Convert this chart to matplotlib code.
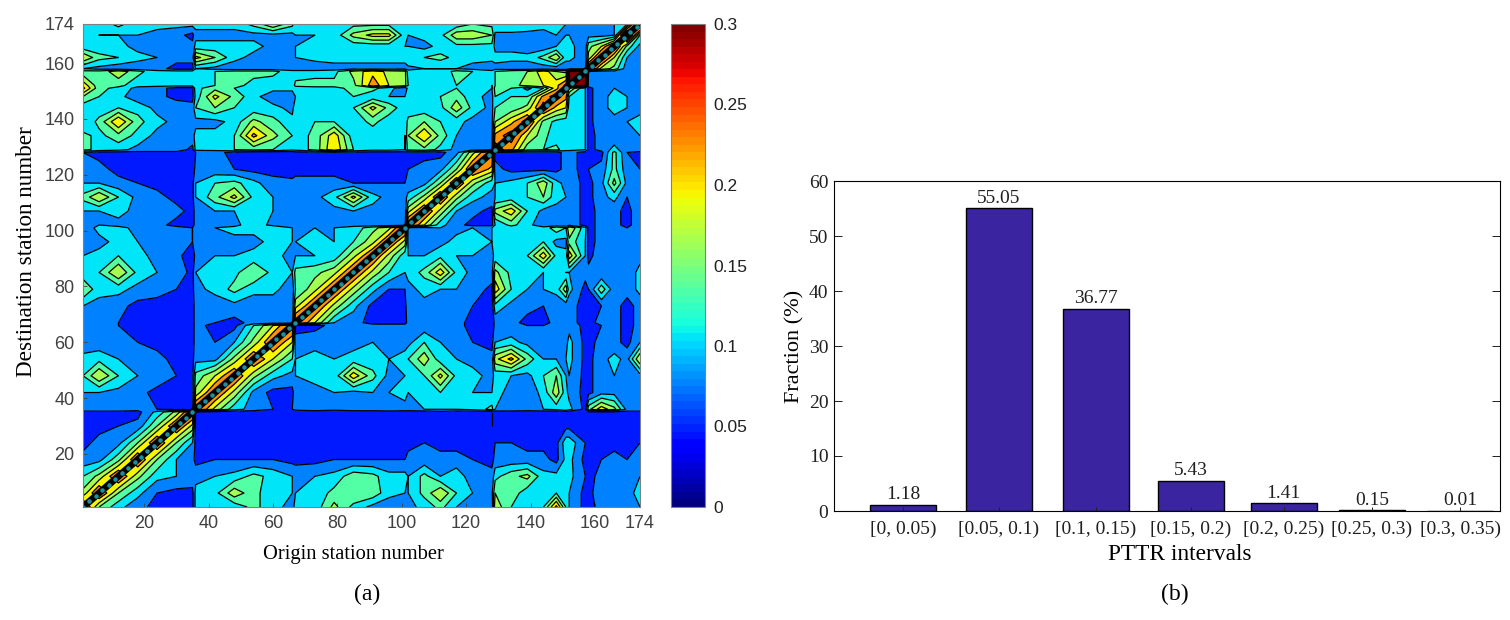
import numpy as np
import matplotlib
matplotlib.use('Agg')
import matplotlib.pyplot as plt
from matplotlib.cm import ScalarMappable
from matplotlib.colors import Normalize

SERIF = 'Liberation Serif'
SANS = 'Liberation Sans'
BAR_COLOR = '#3B24A0'
GRAY = '#404040'

stations = [1, 6, 12, 18, 24, 30, 35, 36, 42, 48, 54, 60, 66, 67, 73, 79, 85, 91, 96, 101,
            102, 107, 112, 117, 122, 128, 129, 134, 139, 144, 148, 151, 152, 157,
            158, 162, 166, 170, 174]
diag_stations = list(range(1, 175, 2))

# PTTR x 100, first row is destination 174, last row is destination 1
pttr_rows = [
    [10,10,13,10,10,10,10, 10,10,10,13,18,13, 10,10,10,11,11,11,10, 10,10,10,10,12,11, 12,12,11,10,10,9, 9,6, 8,9,9,12,33],
    [10,9,9,9,8,7,5, 8,8,8,8,8,8, 9,9,10,16,19,19,10, 9,10,11,17,17,15, 8,8,8,8,9,9, 9,7, 8,8,9,33,12],
    [10,10,10,8,7,7,7, 10,10,10,10,8,7, 9,10,10,10,10,10,9, 9,8,10,11,11,11, 8,8,7,7,9,10, 10,7, 14,18,27,14,8],
    [18,13,12,10,9,7,7, 19,15,10,8,8,9, 9,10,11,10,10,10,10, 12,12,13,11,10,10, 10,10,10,13,18,10, 10,7, 16,27,18,9,8],
    [9,8,7,7,7,5,5, 9,8,7,7,7,7, 7,7,7,8,8,8,8, 8,9,9,9,8,7, 8,7,7,7,7,7, 7,7, 27,17,14,7,7],
    [13,13,17,13,10,10,10, 10,12,13,13,13,10, 10,10,11,16,20,17,16, 10,12,10,13,12,10, 12,14,15,20,15,14, 33,33, 9,8,8,8,8],
    [20,13,13,10,10,10,10, 10,12,13,11,10,10, 13,14,13,14,23,18,16, 12,12,10,12,10,9, 12,14,16,18,20,25, 33,33, 7,8,8,9,7],
    [22,13,11,8,7,5,5, 11,14,12,11,10,10, 10,10,11,13,13,10,7, 10,10,11,12,10,9, 13,12,8,12,20,26, 18,9, 5,8,9,9,8],
    [15,12,10,7,7,5,5, 10,19,14,10,7,7, 9,10,12,12,10,9,9, 10,10,12,14,10,8, 12,12,12,22,26,22, 12,9, 5,8,10,9,8],
    [10,10,12,11,8,8,7, 12,15,12,10,10,8, 11,10,10,12,19,14,10, 10,10,11,17,11,8, 12,13,16,26,20,18, 10,9, 5,8,10,9,8],
    [9,13,21,13,10,8,8, 8,8,10,16,13,10, 10,12,12,10,13,10,10, 13,15,12,10,8,8, 15,20,26,14,11,10, 10,9, 5,8,8,9,10],
    [13,11,14,11,8,8,8, 10,10,12,22,16,12, 10,13,20,10,10,10,9, 15,21,14,9,8,8, 22,26,18,13,10,10, 10,9, 5,7,7,8,9],
    [13,11,10,8,8,8,5, 10,10,12,13,12,10, 10,13,21,12,10,10,9, 13,14,11,8,8,8, 26,22,13,12,13,10, 10,9, 5,7,10,7,8],
    [6,5,5,5,5,5,4, 6,7,5,4,4,4, 5,5,5,5,5,5,5, 5,5,5,8,17,26, 5,5,5,5,5,7, 7,5, 5,5,13,6,5],
    [8,7,5,5,5,5,4, 7,7,6,5,5,4, 5,5,5,5,6,5,5, 6,7,8,15,25,20, 7,5,5,5,5,7, 7,5, 6,7,13,7,6],
    [9,9,7,6,5,5,5, 9,12,13,10,7,7, 7,7,7,6,6,6,6, 7,8,15,25,16,10, 9,10,12,17,10,8, 8,5, 5,8,16,8,7],
    [13,18,12,8,7,5,5, 9,14,19,11,9,8, 8,8,11,19,10,8,8, 10,16,25,16,10,8, 9,10,12,15,10,9, 8,5, 5,8,10,6,8],
    [9,9,10,8,7,7,5, 7,9,9,12,9,7, 6,7,8,9,8,7,7, 17,25,17,9,7,5, 16,20,12,8,8,8, 8,5, 5,7,7,5,8],
    [8,9,8,7,7,5,5, 7,8,8,11,8,7, 7,7,8,8,7,7,7, 26,18,10,7,5,5, 9,13,10,7,7,7, 8,5, 5,7,7,5,8],
    [7,10,10,8,7,7,6, 8,9,10,10,12,9, 9,9,9,10,14,17,26, 8,8,9,8,9,9, 11,10,10,10,14,12, 18,10, 5,7,7,6,8],
    [7,8,10,9,7,7,6, 7,8,8,8,10,9, 9,10,9,12,17,25,17, 8,7,8,10,10,9, 10,10,10,12,8,8, 14,9, 5,7,8,7,8],
    [9,10,12,10,8,7,4, 7,9,9,10,10,8, 9,9,10,17,25,17,10, 9,9,11,9,9,8, 10,10,12,20,11,10, 20,9, 5,8,8,7,8],
    [10,12,18,11,9,8,5, 9,10,11,15,11,9, 13,14,17,25,17,12,9, 10,13,20,11,8,8, 16,11,10,9,10,9, 9,7, 7,6,7,7,10],
    [15,10,10,8,7,6,5, 8,10,13,10,10,7, 12,17,25,17,10,6,6, 8,10,9,9,8,5, 20,12,9,9,10,17, 10,5, 6,14,7,7,10],
    [9,8,7,5,5,5,5, 7,7,8,7,7,7, 17,25,17,10,5,5,5, 8,8,8,8,6,4, 11,8,7,6,7,7, 7,5, 5,6,7,5,7],
    [7,7,6,5,5,5,5, 7,6,5,7,7,6, 26,18,9,7,5,5,5, 7,7,7,7,5,4, 7,7,5,5,7,7, 7,5, 5,7,7,5,7],
    [7,7,6,5,5,5,5, 7,5,5,12,18,26, 5,5,7,7,7,7,7, 7,7,7,7,5,4, 7,7,6,6,7,7, 8,5, 5,6,7,5,7],
    [7,7,7,6,5,5,5, 7,6,9,16,25,18, 7,8,8,8,9,8,8, 8,12,9,8,6,5, 9,10,8,8,7,8, 10,5, 5,7,7,5,9],
    [10,11,9,8,7,5,5, 8,8,16,25,18,12, 9,10,9,10,10,9,10, 12,17,10,9,8,7, 17,22,14,9,9,9, 10,5, 5,8,10,8,18],
    [12,18,12,9,8,6,5, 13,18,25,16,10,8, 9,10,10,20,13,8,9, 10,12,19,11,10,8, 10,9,8,12,15,9, 9,5, 5,8,9,8,8],
    [9,9,8,7,5,5,4, 16,25,17,8,5,5, 8,8,9,8,9,9,10, 9,10,12,10,9,9, 10,8,7,10,17,10, 8,5, 5,8,8,8,8],
    [8,8,8,7,6,5,4, 26,17,10,8,6,6, 7,8,7,8,8,9,8, 8,9,9,9,10,13, 9,9,8,9,10,12, 10,5, 14,20,16,8,8],
    [5,5,5,5,10,16,26, 5,4,4,4,4,4, 4,4,4,4,4,4,4, 4,4,5,4,4,3, 4,4,4,4,3,4, 4,5, 5,5,5,5,5],
    [5,5,6,7,15,25,17, 5,5,5,5,5,5, 5,5,5,5,5,5,5, 5,5,5,4,4,3, 5,5,5,4,4,5, 5,5, 5,4,5,5,5],
    [5,7,8,15,25,15,9, 5,5,5,5,5,5, 5,5,5,5,5,6,5, 5,6,5,5,5,5, 6,6,5,5,5,11, 11,6, 5,5,5,5,6],
    [7,8,14,25,15,9,7, 5,6,6,6,6,5, 5,5,6,6,6,6,6, 7,7,7,7,6,5, 7,7,7,7,5,10, 10,5, 5,6,7,6,9],
    [12,16,25,16,10,9,8, 8,9,10,13,11,9, 8,9,10,14,13,10,10, 9,13,9,11,7,7, 11,14,16,10,10,10, 10,6, 5,7,7,7,9],
    [16,25,15,10,6,5,5, 10,11,17,13,10,9, 9,10,13,15,14,10,9, 9,13,18,12,9,8, 15,14,10,12,12,10, 9,5, 5,8,9,8,10],
    [26,15,10,7,5,5,5, 10,10,10,13,10,8, 10,10,16,11,8,7,8, 8,10,13,9,8,7, 17,12,9,12,22,12, 9,5, 5,7,9,7,9],
]

station_ticks = [20, 40, 60, 80, 100, 120, 140, 160, 174]
cbar_ticks = [0, 0.05, 0.1, 0.15, 0.2, 0.25, 0.3]
cbar_labels = ['0', '0.05', '0.1', '0.15', '0.2', '0.25', '0.3']

intervals = ['[0, 0.05)', '[0.05, 0.1)', '[0.1, 0.15)', '[0.15, 0.2)', '[0.2, 0.25)', '[0.25, 0.3)', '[0.3, 0.35)']
fractions = [1.18, 55.05, 36.77, 5.43, 1.41, 0.15, 0.01]

W, H = 1510, 620
fig = plt.figure(figsize=(W / 100, H / 100), dpi=100)


def px_axes(left, top, right, bottom):
    return fig.add_axes([left / W, 1 - bottom / H, (right - left) / W, (bottom - top) / H])


# (a) contour map
ax = px_axes(83, 24, 640, 507)
Z = np.array(pttr_rows[::-1]) / 100
levels = np.arange(0, 0.37, 0.03)
norm = Normalize(0, 0.3)
ax.contourf(stations, stations, Z, levels=levels, cmap='jet', norm=norm)
ax.contour(stations, stations, Z, levels=levels[1:], colors='k', linewidths=0.9)
ax.plot(diag_stations, diag_stations, color='k', lw=5, solid_capstyle='butt')
ax.scatter(diag_stations, diag_stations, s=5, color='#1C8FA0', zorder=3)
ax.set_xlim(1, 174)
ax.set_ylim(1, 174)
ax.set_xticks(station_ticks)
ax.set_yticks(station_ticks)
ax.tick_params(labelsize=13, colors=GRAY, length=3, width=0.6, direction='in', pad=6)
for lab in ax.get_xticklabels() + ax.get_yticklabels():
    lab.set_fontfamily(SANS)
for s in ax.spines.values():
    s.set_color('#808080')
ax.set_xlabel('Origin station number', family=SERIF, fontsize=14.8)
ax.xaxis.set_label_coords(0.485, -0.078)
ax.set_ylabel('Destination station number', family=SERIF, fontsize=16.7)
ax.yaxis.set_label_coords(-0.083, 0.528)

cax = px_axes(671, 24, 705, 507)
sm = ScalarMappable(norm=norm, cmap=matplotlib.colormaps['jet'].resampled(64))
cb = fig.colorbar(sm, cax=cax, ticks=cbar_ticks)
cb.ax.set_yticklabels(cbar_labels, family=SANS, fontsize=12.5, color='#202020')
cb.ax.tick_params(length=0, pad=6)
cb.outline.set_edgecolor('#808080')

# (b) bars, the source figure spaces them slightly unevenly
bar_pos = [1, 2.03, 3.08, 4.10, 5.10, 6.05, 7]
ax2 = px_axes(834, 181, 1500, 511)
bars = ax2.bar(bar_pos, fractions, width=0.71, color=BAR_COLOR, edgecolor='k', linewidth=1)
for b, v in zip(bars, fractions):
    ax2.text(b.get_x() + b.get_width() / 2, v + 0.3, f'{v:.2f}', ha='center', va='bottom',
             family=SERIF, fontsize=14, color='#202020')
ax2.set_xlim(0.257, 7.43)
ax2.set_ylim(0, 60)
ax2.set_xticks(bar_pos)
ax2.set_xticklabels(intervals, family=SERIF, fontsize=14)
ax2.set_yticks(range(0, 61, 10))
ax2.tick_params(axis='x', direction='in', length=3, width=0.7, pad=7, colors='#202020')
ax2.tick_params(axis='y', direction='in', length=6, width=0.7, right=True, labelsize=14, pad=4, colors='#202020')
for lab in ax2.get_yticklabels():
    lab.set_fontfamily(SERIF)
ax2.set_xlabel('PTTR intervals', family=SERIF, fontsize=16.8)
ax2.xaxis.set_label_coords(0.5195, -0.1)
ax2.set_ylabel('Fraction (%)', family=SERIF, fontsize=16, labelpad=3)

fig.text(367 / W, 1 - 594 / H, '(a)', family=SERIF, fontsize=17, ha='center', va='center')
fig.text(1175 / W, 1 - 594 / H, '(b)', family=SERIF, fontsize=17, ha='center', va='center')

fig.savefig('out.png', dpi=100)
